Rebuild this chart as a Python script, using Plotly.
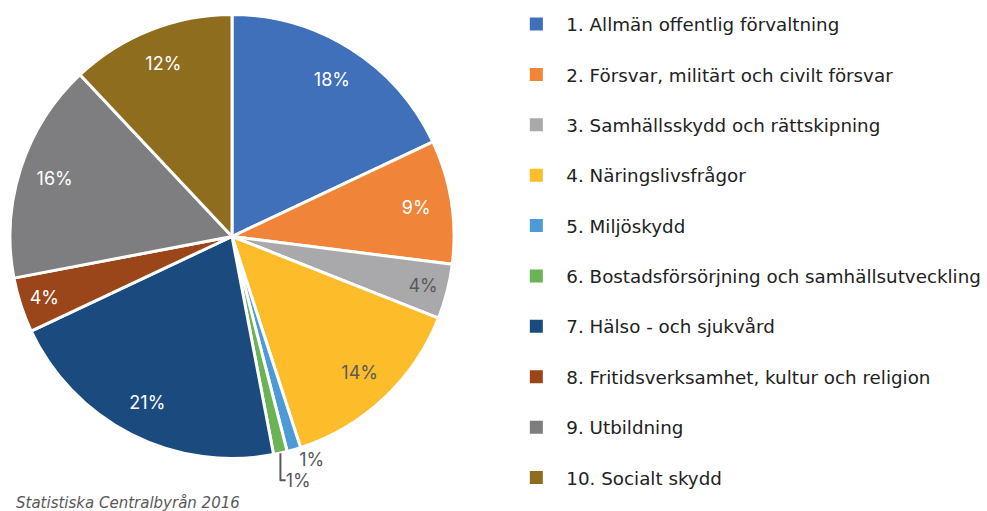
import plotly.graph_objects as go

categories = [
    "1. Allmän offentlig förvaltning",
    "2. Försvar, militärt och civilt försvar",
    "3. Samhällsskydd och rättskipning",
    "4. Näringslivsfrågor",
    "5. Miljöskydd",
    "6. Bostadsförsörjning och samhällsutveckling",
    "7. Hälso - och sjukvård",
    "8. Fritidsverksamhet, kultur och religion",
    "9. Utbildning",
    "10. Socialt skydd",
]
values = [18, 9, 4, 14, 1, 1, 21, 4, 16, 12]
colors = ["#3F70B9", "#F08539", "#A9A9AB", "#FDBD2A", "#4E9AD6",
          "#6BB354", "#1B4A7E", "#9B461A", "#7E7E80", "#8E6D1F"]
label_colors = ["white", "white", "#595959", "#595959", "#595959",
                "#595959", "white", "white", "white", "white"]
positions = ["inside", "inside", "inside", "inside", "outside",
             "outside", "inside", "inside", "inside", "inside"]

LABEL_FONT = "Inter"
LEGEND_FONT = "DejaVu Sans"
domain = dict(x=[10/987, 454/987], y=[1-459/511, 1-14/511])

fig = go.Figure()
# coloured slices
fig.add_trace(go.Pie(
    labels=categories, values=values, sort=False, direction="clockwise",
    rotation=0, showlegend=False, textinfo="none",
    marker=dict(colors=colors, line=dict(color="white", width=3)),
    domain=domain, hoverinfo="label+percent",
))
# transparent ring carrying the percentage labels near the rim
fig.add_trace(go.Pie(
    labels=categories, values=values, sort=False, direction="clockwise",
    rotation=0, showlegend=False, hole=0.68,
    marker=dict(colors=["rgba(0,0,0,0)"] * len(values), line=dict(width=0)),
    texttemplate="%{value}%", textposition=positions,
    insidetextorientation="horizontal",
    textfont=dict(family=LABEL_FONT, size=18, color=label_colors),
    outsidetextfont=dict(family=LABEL_FONT, size=18, color="#595959"),
    domain=domain, hoverinfo="skip",
))

for i, (cat, col) in enumerate(zip(categories, colors)):
    fig.add_trace(go.Scatter(
        x=[None], y=[None], mode="markers", name=cat,
        marker=dict(symbol="square", size=13, color=col),
        legendgroup=f"g{i}", showlegend=True,
    ))

fig.update_layout(
    width=987, height=511,
    margin=dict(l=0, r=0, t=0, b=0),
    paper_bgcolor="white", plot_bgcolor="white",
    xaxis=dict(visible=False), yaxis=dict(visible=False),
    legend=dict(x=0.513, y=0.989, xanchor="left", yanchor="top",
                font=dict(family=LEGEND_FONT, size=18.3, color="#222222"),
                tracegroupgap=23.6, itemwidth=50, bgcolor="rgba(0,0,0,0)"),
    annotations=[dict(text="<i>Statistiska Centralbyrån 2016</i>",
                      x=14/987, y=-0.006, xref="paper", yref="paper",
                      xanchor="left", yanchor="bottom", showarrow=False,
                      font=dict(family=LEGEND_FONT, size=15, color="#595959"))],
)

fig.write_html("out.html", config={"displayModeBar": False},
               post_script="document.body.style.margin='0';")
